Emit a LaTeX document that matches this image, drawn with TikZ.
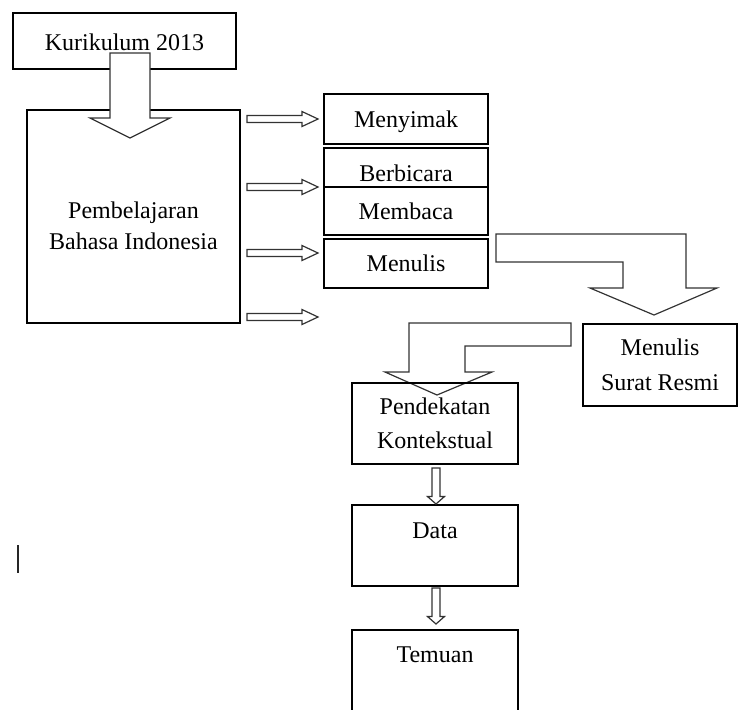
\documentclass[tikz,border=0pt]{standalone}
\usepackage{fontspec}
\setmainfont{Liberation Serif}
\usepackage{tikz}
\usetikzlibrary{positioning,calc,backgrounds}

\begin{document}
\begin{tikzpicture}[x=0.5pt,y=-0.5pt,
box/.style={draw,line width=0.6pt,inner sep=0pt,outer sep=0pt,font=\fontsize{12pt}{15.5pt}\selectfont},
fat/.style={draw=black!80,fill=white,line width=0.6pt},
fatright/.style={fat,to path={let \p1=(\tikztostart),\p2=(\tikztotarget) in (\x1,\y1+1.75pt) -- (\x2-8pt,\y1+1.75pt) -- (\x2-8pt,\y1+3.75pt) -- (\x2,\y1) -- (\x2-8pt,\y1-3.75pt) -- (\x2-8pt,\y1-1.75pt) -- (\x1,\y1-1.75pt) -- cycle}},
fatdown/.style={fat,to path={let \p1=(\tikztostart),\p2=(\tikztotarget) in (\x1-2pt,\y1) -- (\x1+2pt,\y1) -- (\x1+2pt,\y2+3.75pt) -- (\x1+4.25pt,\y2+3.75pt) -- (\x1,\y2) -- (\x1-4.25pt,\y2+3.75pt) -- (\x1-2pt,\y2+3.75pt) -- cycle}}]
\useasboundingbox (0,0) rectangle (739,709);
\clip (0,0) rectangle (739,709);
% left column
\node[box,anchor=north west,minimum width=111.5pt,text height=18.5pt,text depth=9.5pt] (kur) at (13,13) {Kurikulum 2013};
\node[box,anchor=north west,minimum width=106.5pt,minimum height=106.5pt] (pb) at (27,110) {};
\node[align=center,font=\fontsize{12pt}{15.5pt}\selectfont] (pbtext) at ($(pb.center)+(0,9)$) {Pembelajaran\\Bahasa Indonesia};
\draw[fat] ($(kur.south)+(-14.5,-16)$) -- ++(40,0) -- ($(pb.north -| kur.south)+(25.5,8)$) -- ++(20,0) -- ($(pb.north -| kur.south)+(5.5,28)$) -- ++(-40,-20) -- ++(20,0) -- cycle;
% skills
\node[box,anchor=north west,minimum width=82pt,text height=16.5pt,text depth=8.5pt] (sim) at (324,94) {Menyimak};
\node[box,below=2pt of sim,minimum width=82pt,text height=16.5pt,text depth=3pt] (ber) {Berbicara};
\node[box,below=0pt of ber,minimum width=82pt,text height=16pt,text depth=8pt] (mem) {Membaca};
\node[box,below=2pt of mem,minimum width=82pt,text height=16pt,text depth=8.5pt] (tul) {Menulis};
\draw[fatright] ($(pb.east |- sim.west)+(7,0)$) to ($(sim.west)+(-6,0)$);
\draw[fatright] ($(pb.east |- ber.south)+(7,0)$) to ($(ber.south west)+(-6,0)$);
\draw[fatright] ($(pb.east |- tul.west)+(7,-10.5)$) to ($(tul.west)+(-6,-10.5)$);
\draw[fatright] ($(pb.south east)+(7,-6)$) to ($(pb.south east -| tul.west)+(-6,-6)$);
% menulis surat resmi
\node[box,anchor=north west,align=center,minimum width=77pt,minimum height=41pt] (srt) at (583,324) {Menulis\\[2pt]Surat Resmi};
\draw[fat] ($(tul.east)+(8,-29.5)$) -| ($(srt.north)+(26,-36)$) -- ++(31,0) -- ($(srt.north)+(-6,-9)$) -- ($(srt.north)+(-70,-36)$) -- ++(33,0) |- ($(tul.east)+(8,-1.5)$) -- cycle;
% lower column
\node[box,anchor=north west,align=center,minimum width=83pt,minimum height=40.5pt] (pdk) at (352,383) {Pendekatan\\[1.5pt]Kontekstual};
\node[box,below=20.5pt of pdk,minimum width=83pt,text height=16.5pt,text depth=24pt] (dat) {Data};
\node[box,below=22pt of dat,minimum width=83pt,text height=16pt,text depth=29pt] (tem) {Temuan};
\begin{scope}[on background layer]
\draw[fat] ($(srt.north west)+(-12,-1)$) -- ++(0,23) -| ($(pdk.north)+(30,-11)$) -- ++(27,0) -- ($(pdk.north)+(2,12)$) -- ($(pdk.north)+(-50,-11)$) -- ++(24,0) |- ($(srt.north west)+(-12,-1)$) -- cycle;
\end{scope}
\draw[fatdown] ($(pdk.south)+(1,4)$) to ($(dat.north)+(1,-1)$);
\draw[fatdown] ($(dat.south)+(1,2)$) to ($(tem.north)+(1,-6)$);
\draw[line width=0.8pt,black!85] (18,545) -- (18,573);
\end{tikzpicture}
\end{document}
